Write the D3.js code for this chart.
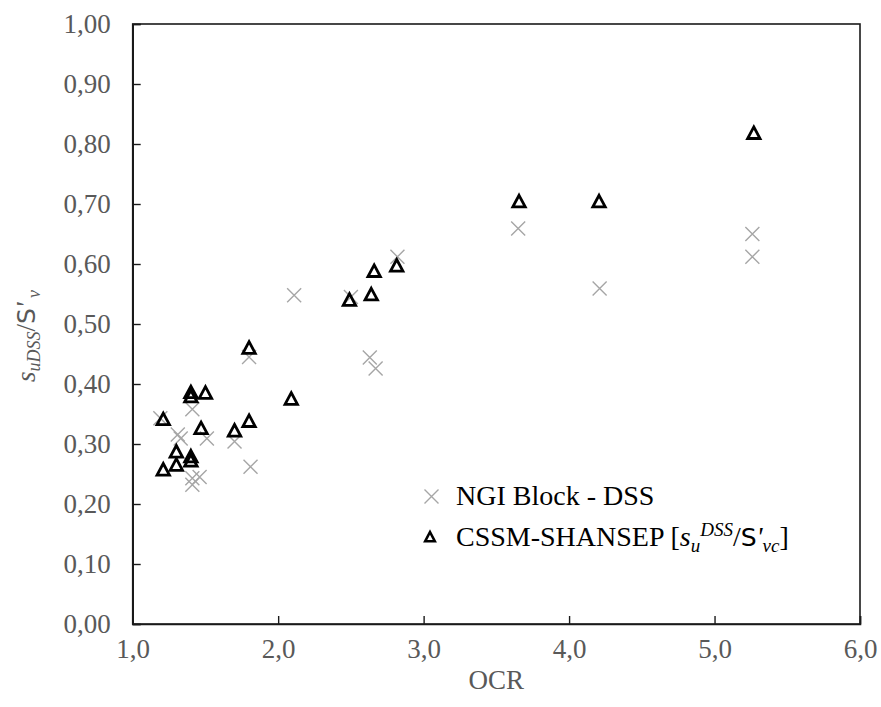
<!DOCTYPE html>
<html>
<head>
<meta charset="utf-8">
<script src="https://cdn.jsdelivr.net/npm/d3@7"></script>
<style>
  html, body { margin: 0; padding: 0; background: #fff; }
  svg { display: block; }
</style>
</head>
<body>
<svg id="chart" width="881" height="707"></svg>
<script>
// ---- data ----
const ngiOCR   = [1.19, 1.31, 1.33, 1.41, 1.41, 1.41, 1.46, 1.51, 1.70, 1.80, 1.81, 2.11, 2.50, 2.63, 2.67, 2.82, 3.65, 4.21, 5.26, 5.26];
const ngiRatio = [0.343, 0.316, 0.309, 0.358, 0.243, 0.232, 0.245, 0.309, 0.304, 0.445, 0.262, 0.548, 0.545, 0.444, 0.426, 0.612, 0.659, 0.559, 0.650, 0.612];
const cssmOCR   = [1.21, 1.21, 1.30, 1.30, 1.40, 1.40, 1.40, 1.40, 1.47, 1.50, 1.70, 1.80, 1.80, 2.09, 2.49, 2.64, 2.66, 2.815, 3.656, 4.206, 5.27];
const cssmRatio = [0.341, 0.257, 0.287, 0.265, 0.386, 0.379, 0.279, 0.272, 0.326, 0.385, 0.322, 0.460, 0.338, 0.375, 0.540, 0.549, 0.588, 0.597, 0.704, 0.704, 0.818];
const xTicks = [1, 2, 3, 4, 5, 6];
const yTicks = [0, 0.1, 0.2, 0.3, 0.4, 0.5, 0.6, 0.7, 0.8, 0.9, 1.0];
const seriesNames = ["NGI Block - DSS", "CSSM-SHANSEP"];

// ---- layout ----
const svg = d3.select("#chart");
const plot = { left: 132.7, top: 24, right: 860, bottom: 624 };
const x = d3.scaleLinear().domain([1, 6]).range([plot.left, plot.right]);
const y = d3.scaleLinear().domain([0, 1]).range([plot.bottom, plot.top]);
const serif = "'Liberation Serif', 'Times New Roman', serif";
const tickColor = "#595959";
const comma = f => v => f(v).replace(".", ",");

// frame (top & right borders)
svg.append("rect")
  .attr("x", plot.left).attr("y", plot.top)
  .attr("width", plot.right - plot.left).attr("height", plot.bottom - plot.top)
  .attr("fill", "none").attr("stroke", "#1a1a1a").attr("stroke-width", 1.6);

// axes
const gx = svg.append("g").attr("transform", `translate(0,${plot.bottom})`)
  .call(d3.axisBottom(x).tickValues(xTicks).tickFormat(comma(d3.format(".1f")))
    .tickSize(-8).tickPadding(15));
const gy = svg.append("g").attr("transform", `translate(${plot.left},0)`)
  .call(d3.axisLeft(y).tickValues(yTicks).tickFormat(comma(d3.format(".2f")))
    .tickSize(-8).tickPadding(22));
[gx, gy].forEach(g => {
  g.select(".domain").attr("stroke", "#1a1a1a").attr("stroke-width", 1.6);
  g.selectAll(".tick line").attr("stroke", "#1a1a1a").attr("stroke-width", 1.4);
  g.selectAll(".tick text").attr("fill", tickColor)
    .style("font-family", serif).style("font-size", "27px");
});

// markers
const xPath = "M-7,-7L7,7M-7,7L7,-7";
const triPath = "M0,-6.3L6.2,5.3L-6.2,5.3Z";

const ngi = ngiOCR.map((o, i) => ({ o, r: ngiRatio[i] }));
const cssm = cssmOCR.map((o, i) => ({ o, r: cssmRatio[i] }));

svg.append("g").selectAll("path").data(ngi).join("path")
  .attr("d", xPath)
  .attr("transform", d => `translate(${x(d.o)},${y(d.r)})`)
  .attr("fill", "none").attr("stroke", "#a6a6a6").attr("stroke-width", 1.4);

svg.append("g").selectAll("path").data(cssm).join("path")
  .attr("d", triPath)
  .attr("transform", d => `translate(${x(d.o)},${y(d.r)})`)
  .attr("fill", "none").attr("stroke", "#000").attr("stroke-width", 2.8)
  .attr("stroke-linejoin", "miter");

// axis titles
svg.append("text")
  .attr("x", (plot.left + plot.right) / 2).attr("y", 689)
  .attr("text-anchor", "middle").attr("fill", tickColor)
  .style("font-family", serif).style("font-size", "27px")
  .text("OCR");

const yl = svg.append("text")
  .attr("transform", "translate(35,336) rotate(-90)")
  .attr("text-anchor", "middle").attr("fill", tickColor)
  .style("font-family", serif).style("font-size", "27px");
yl.append("tspan").style("font-style", "italic").text("s");
yl.append("tspan").style("font-style", "italic").style("font-size", "18px").attr("dy", 5).text("uDSS");
yl.append("tspan").attr("dy", -5).text("/");
yl.append("tspan").style("font-family", "'DejaVu Sans', sans-serif").style("font-size", "25px").text("S");
yl.append("tspan").style("font-style", "italic").text("'");
yl.append("tspan").style("font-style", "italic").style("font-size", "18px").attr("dy", 5).text(" v");

// legend
const lg = svg.append("g");
lg.append("path").attr("d", xPath)
  .attr("transform", "translate(431.5,496.5)")
  .attr("fill", "none").attr("stroke", "#a6a6a6").attr("stroke-width", 1.4);
lg.append("text").attr("x", 456).attr("y", 505)
  .attr("fill", "#000").style("font-family", serif).style("font-size", "28px")
  .text(seriesNames[0]);
lg.append("path").attr("d", "M0,-5L4.8,4.2L-4.8,4.2Z")
  .attr("transform", "translate(430,537)")
  .attr("fill", "none").attr("stroke", "#000").attr("stroke-width", 2.6);
const t2 = lg.append("text").attr("x", 456).attr("y", 546)
  .attr("fill", "#000").style("font-family", serif).style("font-size", "28px");
t2.append("tspan").text(seriesNames[1] + " [");
t2.append("tspan").style("font-style", "italic").text("s");
t2.append("tspan").style("font-style", "italic").style("font-size", "19px").attr("dy", 6).text("u");
t2.append("tspan").style("font-style", "italic").style("font-size", "19px").attr("dy", -16).text("DSS");
t2.append("tspan").attr("dy", 10).text("/");
t2.append("tspan").style("font-family", "'DejaVu Sans', sans-serif").style("font-size", "25px").text("S");
t2.append("tspan").style("font-style", "italic").text("'");
t2.append("tspan").style("font-style", "italic").style("font-size", "19px").attr("dy", 6).text("vc");
t2.append("tspan").attr("dy", -6).text("]");
</script>
</body>
</html>
